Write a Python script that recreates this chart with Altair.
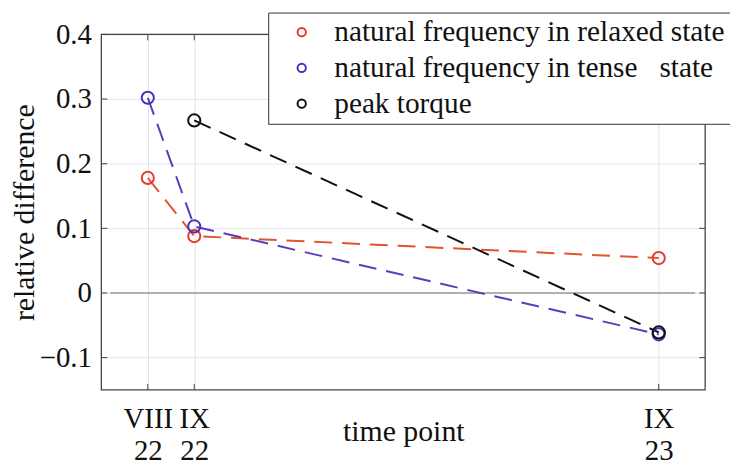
import altair as alt
import pandas as pd

# x positions of time points (months since VII 2022)
x_pos = [1, 2, 12]
x_labels = ["VIII 22", "IX 22", "IX 23"]
y_ticks = [-0.1, 0, 0.1, 0.2, 0.3, 0.4]

series = ["natural frequency in relaxed state",
          "natural frequency in tense\u00a0\u00a0 state",
          "peak torque"]
relaxed = [0.178, 0.088, 0.054]
tense = [0.302, 0.103, -0.064]
torque = [None, 0.267, -0.061]

marker_colors = ["#e8392a", "#4532c0", "#111111"]
line_colors = ["#e0562c", "#5b3cc0", "#111111"]

rows = []
for name, vals in zip(series, [relaxed, tense, torque]):
    for xv, v in zip(x_pos, vals):
        if v is not None:
            rows.append({"x": xv, "y": v, "series": name})
df = pd.DataFrame(rows)

FONT = "Liberation Serif"
W, H = 608, 358
XS = alt.Scale(domain=[0, 13], nice=False)
YS = alt.Scale(domain=[-0.15, 0.4], nice=False)

label_expr = ("datum.value == 1 ? ['VIII','22'] : datum.value == 2 ? ['IX','22'] : "
              "datum.value == 12 ? ['IX','23'] : ''")

xenc = alt.X("x:Q", scale=XS,
             axis=alt.Axis(values=x_pos, labelExpr=label_expr, title="time point",
                           grid=True, gridColor="#e4e4e4", ticks=False, domain=False,
                           labelFont=FONT, labelFontSize=29, labelColor="#111",
                           labelLineHeight=32, labelPadding=15, labelFlush=False,
                           labelOverlap=False,
                           titleFont=FONT, titleFontSize=30, titleFontWeight="normal",
                           titleColor="#111", titleY=51, titleBaseline="alphabetic"))
yenc = alt.Y("y:Q", scale=YS,
             axis=alt.Axis(values=y_ticks,
                           labelExpr="datum.value == 0 ? '0' : format(datum.value, '.1f')",
                           title="relative difference",
                           grid=True, gridColor="#e4e4e4", ticks=False, domain=False,
                           labelFont=FONT, labelFontSize=29, labelColor="#111",
                           labelPadding=10,
                           titleFont=FONT, titleFontSize=30, titleFontWeight="normal",
                           titleColor="#111", titleAngle=270, titleX=-77, titleY=179,
                           titleAlign="center", titleBaseline="middle"))

ydf = pd.DataFrame({"y": y_ticks})
xdf = pd.DataFrame({"x": x_pos})

zero = alt.Chart(pd.DataFrame({"y": [0]})).mark_rule(color="#9a9a9a", strokeWidth=1.4).encode(
    y=alt.Y("y:Q", scale=YS), x=alt.value(9), x2=alt.value(598))

tick_c = "#444"
yl = alt.Chart(ydf).mark_rule(color=tick_c, strokeWidth=1).encode(
    y=alt.Y("y:Q", scale=YS), x=alt.value(0), x2=alt.value(6))
yr = alt.Chart(ydf).mark_rule(color=tick_c, strokeWidth=1).encode(
    y=alt.Y("y:Q", scale=YS), x=alt.value(W - 6), x2=alt.value(W))
xb = alt.Chart(xdf).mark_rule(color=tick_c, strokeWidth=1).encode(
    x=alt.X("x:Q", scale=XS), y=alt.value(H - 6), y2=alt.value(H))
xt = alt.Chart(xdf).mark_rule(color=tick_c, strokeWidth=1).encode(
    x=alt.X("x:Q", scale=XS), y=alt.value(0), y2=alt.value(6))

frame = alt.Chart(pd.DataFrame({"a": [0]})).mark_rect(
    fill=None, fillOpacity=0, stroke="#444", strokeWidth=1.3).encode(
    x=alt.value(0), x2=alt.value(W), y=alt.value(0), y2=alt.value(H))

lines = alt.Chart(df).mark_line(strokeDash=[18, 10], strokeWidth=2).encode(
    x=xenc, y=yenc,
    color=alt.Color("series:N", scale=alt.Scale(domain=series, range=line_colors), legend=None),
    detail="series:N")

points = alt.Chart(df).mark_point(shape="circle", filled=False, size=150, strokeWidth=2, opacity=1).encode(
    x=alt.X("x:Q", scale=XS), y=alt.Y("y:Q", scale=YS),
    stroke=alt.Stroke("series:N", scale=alt.Scale(domain=series, range=marker_colors),
                      legend=alt.Legend(title=None, orient="none", legendX=168, legendY=-22,
                                        strokeColor="#333", fillColor="white", padding=5,
                                        symbolType="circle", symbolSize=70, symbolStrokeWidth=2,
                                        symbolFillColor="transparent", symbolOffset=14,
                                        labelFont=FONT, labelFontSize=29.5, labelColor="#111",
                                        labelOffset=18, rowPadding=5, labelLimit=600)),
    order=alt.Order("series:N"))

chart = alt.layer(zero, yl, yr, xb, xt, lines, points, frame).resolve_scale(color="independent").properties(
    width=W, height=H,
    autosize=alt.AutoSizeParams(type="none"),
    padding={"left": 94, "top": 25, "right": 25, "bottom": 78},
).configure(background="white", font=FONT).configure_view(stroke=None)

chart.save("out.html", embed_options={"renderer": "svg", "actions": False})
